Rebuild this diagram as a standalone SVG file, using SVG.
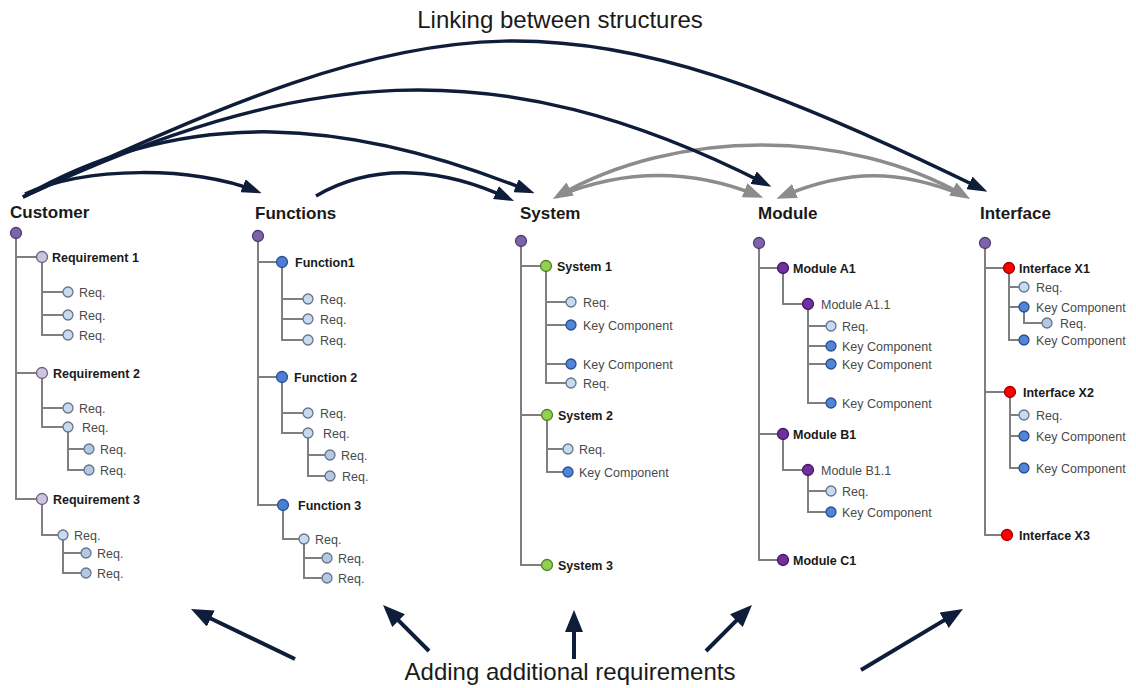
<svg xmlns="http://www.w3.org/2000/svg" width="1136" height="688" viewBox="0 0 1136 688">
<style>
text{font-family:"Liberation Sans",Arial,sans-serif}
.title{font-size:24px;fill:#1a1a1a}
.hdr{font-size:17px;font-weight:bold;fill:#1a1a1a}
.b{font-size:12.5px;font-weight:bold;fill:#1a1a1a}
.t{font-size:12.5px;fill:#4a4a4a}
.ln{fill:none;stroke:#7f7f7f;stroke-width:2}
circle{stroke-width:1.3}
.root{fill:#7f63a8;stroke:#4e3c72}
.rq1{fill:#cec4e0;stroke:#6a6580}
.req{fill:#c6daf2;stroke:#66758b}
.req2{fill:#b5c8e2;stroke:#66758b}
.fn{fill:#4b7fd1;stroke:#2d4f8f}
.sys{fill:#92d050;stroke:#4f7f2a}
.mod{fill:#7030a0;stroke:#42185f}
.itf{fill:#ff0000;stroke:#a00000}
.key{fill:#4f86d6;stroke:#2d4f8f}
.dark{fill:none;stroke:#0e1d3a;stroke-width:3.5}
.gray{fill:none;stroke:#8c8c8c;stroke-width:3.5}
.up{fill:none;stroke:#0e1d3a;stroke-width:4}
</style>
<defs>
<marker id="ahd" viewBox="0 0 20 14" refX="14" refY="7" markerWidth="20" markerHeight="14" markerUnits="userSpaceOnUse" orient="auto"><path d="M0,0 L20,7 L0,14 z" fill="#0e1d3a"/></marker>
<marker id="ahg" viewBox="0 0 20 15" refX="14" refY="7.5" markerWidth="20" markerHeight="15" markerUnits="userSpaceOnUse" orient="auto-start-reverse"><path d="M0,0 L20,7.5 L0,15 z" fill="#8c8c8c"/></marker>
<marker id="ahb" viewBox="0 0 22 18" refX="14" refY="9" markerWidth="22" markerHeight="18" markerUnits="userSpaceOnUse" orient="auto"><path d="M0,0 L22,9 L0,18 z" fill="#0e1d3a"/></marker>
</defs>
<rect width="1136" height="688" fill="#ffffff"/>

<text class="title" x="560" y="28" text-anchor="middle">Linking between structures</text>
<text class="title" x="570" y="680" text-anchor="middle">Adding additional requirements</text>

<g id="connectors">
<path class="gray" d="M558 196 C676 128 847 128 965 196" marker-start="url(#ahg)" marker-end="url(#ahg)"/>
<path class="gray" d="M558 196 C624 169 692 169 757.6 195.4" marker-end="url(#ahg)"/>
<path class="gray" d="M782 196.4 C848 169 899 169 965 196" marker-start="url(#ahg)"/>
<path class="dark" d="M25 194 C86 166 194 166 256 191" marker-end="url(#ahd)"/>
<path class="dark" d="M316 196 C376 161 445.6 168.9 508.6 198.5" marker-end="url(#ahd)"/>
<path class="dark" d="M23 197 C187 102.5 354 120 529 191" marker-end="url(#ahd)"/>
<path class="dark" d="M23 197 C299 68 494 46 766 184" marker-end="url(#ahd)"/>
<path class="dark" d="M23 197 C449 -2 560 -17 982 189" marker-end="url(#ahd)"/>
</g>

<g id="additions">
<path class="up" d="M295 659 L198.2 612.5" marker-end="url(#ahb)"/>
<path class="up" d="M429 651 L388.7 610.7" marker-end="url(#ahb)"/>
<path class="up" d="M574 659 L574 618" marker-end="url(#ahb)"/>
<path class="up" d="M706 651 L746.3 610.7" marker-end="url(#ahb)"/>
<path class="up" d="M861 670 L956.1 613.1" marker-end="url(#ahb)"/>
</g>

<g id="customer">
<text class="hdr" x="10" y="218">Customer</text>
<path class="ln" d="M16 233 V499 H42 M16 257 H42 M16 373 H42 M42 257 V335 H68 M42 292 H68 M42 315 H68 M42 373 V427 H68 M42 408 H68 M68 427 V470 H89 M68 449 H89 M42 499 V535 H63 M63 535 V573 H86 M63 553 H86"/>
<g id="cust-root"><circle class="root" cx="16" cy="233" r="5.5"/></g>
<g id="cust-r1"><circle class="rq1" cx="42" cy="257" r="5.5"/><text class="b" x="52" y="261.5">Requirement 1</text></g>
<g id="cust-r1-1"><circle class="req" cx="68" cy="292" r="5"/><text class="t" x="79" y="296.5">Req.</text></g>
<g id="cust-r1-2"><circle class="req" cx="68" cy="315" r="5"/><text class="t" x="79" y="319.5">Req.</text></g>
<g id="cust-r1-3"><circle class="req" cx="68" cy="335" r="5"/><text class="t" x="79" y="339.5">Req.</text></g>
<g id="cust-r2"><circle class="rq1" cx="42" cy="373" r="5.5"/><text class="b" x="53" y="377.5">Requirement 2</text></g>
<g id="cust-r2-1"><circle class="req" cx="68" cy="408" r="5"/><text class="t" x="79" y="412.5">Req.</text></g>
<g id="cust-r2-2"><circle class="req" cx="68" cy="427" r="5"/><text class="t" x="82" y="431.5">Req.</text></g>
<g id="cust-r2-2-1"><circle class="req2" cx="89" cy="449" r="5"/><text class="t" x="100" y="453.5">Req.</text></g>
<g id="cust-r2-2-2"><circle class="req2" cx="89" cy="470" r="5"/><text class="t" x="100" y="474.5">Req.</text></g>
<g id="cust-r3"><circle class="rq1" cx="42" cy="499" r="5.5"/><text class="b" x="53" y="503.5">Requirement 3</text></g>
<g id="cust-r3-1"><circle class="req" cx="63" cy="535" r="5"/><text class="t" x="74" y="539.5">Req.</text></g>
<g id="cust-r3-1-1"><circle class="req2" cx="86" cy="553" r="5"/><text class="t" x="97" y="557.5">Req.</text></g>
<g id="cust-r3-1-2"><circle class="req2" cx="86" cy="573" r="5"/><text class="t" x="97" y="577.5">Req.</text></g>
</g>

<g id="functions">
<text class="hdr" x="255" y="219">Functions</text>
<path class="ln" d="M258 236 V505 H283 M258 262 H282 M258 377 H282 M282 262 V340 H308 M282 299 H308 M282 319 H308 M282 377 V433 H308 M282 413 H308 M308 433 V476 H330 M308 455 H330 M283 505 V539 H304 M304 539 V578 H327 M304 558 H327"/>
<g id="fn-root"><circle class="root" cx="258" cy="236" r="5.5"/></g>
<g id="fn-1"><circle class="fn" cx="282" cy="262" r="5.5"/><text class="b" x="295" y="266.5">Function1</text></g>
<g id="fn-1-1"><circle class="req" cx="308" cy="299" r="5"/><text class="t" x="320" y="303.5">Req.</text></g>
<g id="fn-1-2"><circle class="req" cx="308" cy="319" r="5"/><text class="t" x="320" y="323.5">Req.</text></g>
<g id="fn-1-3"><circle class="req" cx="308" cy="340" r="5"/><text class="t" x="320" y="344.5">Req.</text></g>
<g id="fn-2"><circle class="fn" cx="282" cy="377" r="5.5"/><text class="b" x="294" y="381.5">Function 2</text></g>
<g id="fn-2-1"><circle class="req" cx="308" cy="413" r="5"/><text class="t" x="320" y="417.5">Req.</text></g>
<g id="fn-2-2"><circle class="req" cx="308" cy="433" r="5"/><text class="t" x="323" y="437.5">Req.</text></g>
<g id="fn-2-2-1"><circle class="req2" cx="330" cy="455" r="5"/><text class="t" x="341" y="459.5">Req.</text></g>
<g id="fn-2-2-2"><circle class="req2" cx="330" cy="476" r="5"/><text class="t" x="342" y="480.5">Req.</text></g>
<g id="fn-3"><circle class="fn" cx="283" cy="505" r="5.5"/><text class="b" x="298" y="509.5">Function 3</text></g>
<g id="fn-3-1"><circle class="req" cx="304" cy="539" r="5"/><text class="t" x="315" y="543.5">Req.</text></g>
<g id="fn-3-1-1"><circle class="req2" cx="327" cy="558" r="5"/><text class="t" x="338" y="562.5">Req.</text></g>
<g id="fn-3-1-2"><circle class="req2" cx="327" cy="578" r="5"/><text class="t" x="338" y="582.5">Req.</text></g>
</g>

<g id="system">
<text class="hdr" x="520" y="219">System</text>
<path class="ln" d="M521 241 V565 H547 M521 266 H546 M521 415 H547 M546 266 V383 H571 M546 302 H571 M546 325 H571 M546 364 H571 M547 415 V472 H568 M547 449 H568"/>
<g id="sys-root"><circle class="root" cx="521" cy="241" r="5.5"/></g>
<g id="sys-1"><circle class="sys" cx="546" cy="266" r="5.5"/><text class="b" x="557" y="270.5">System 1</text></g>
<g id="sys-1-1"><circle class="req" cx="571" cy="302" r="5"/><text class="t" x="583" y="306.5">Req.</text></g>
<g id="sys-1-2"><circle class="key" cx="571" cy="325" r="5"/><text class="t" x="583" y="329.5">Key Component</text></g>
<g id="sys-1-3"><circle class="key" cx="571" cy="364" r="5"/><text class="t" x="583" y="368.5">Key Component</text></g>
<g id="sys-1-4"><circle class="req" cx="571" cy="383" r="5"/><text class="t" x="583" y="387.5">Req.</text></g>
<g id="sys-2"><circle class="sys" cx="547" cy="415" r="5.5"/><text class="b" x="558" y="419.5">System 2</text></g>
<g id="sys-2-1"><circle class="req" cx="568" cy="449" r="5"/><text class="t" x="579" y="453.5">Req.</text></g>
<g id="sys-2-2"><circle class="key" cx="568" cy="472" r="5"/><text class="t" x="579" y="476.5">Key Component</text></g>
<g id="sys-3"><circle class="sys" cx="547" cy="565" r="5.5"/><text class="b" x="558" y="569.5">System 3</text></g>
</g>

<g id="module">
<text class="hdr" x="758" y="219">Module</text>
<path class="ln" d="M759 243 V560 H783 M759 268 H783 M759 434 H783 M783 268 V304 H808 M808 304 V403 H831 M808 326 H831 M808 346 H831 M808 364 H831 M783 434 V470 H808 M808 470 V512 H831 M808 491 H831"/>
<g id="mod-root"><circle class="root" cx="759" cy="243" r="5.5"/></g>
<g id="mod-a1"><circle class="mod" cx="783" cy="268" r="5.5"/><text class="b" x="793" y="272.5">Module A1</text></g>
<g id="mod-a11"><circle class="mod" cx="808" cy="304" r="5.5"/><text class="t" x="821" y="308.5">Module A1.1</text></g>
<g id="mod-a11-1"><circle class="req" cx="831" cy="326" r="5"/><text class="t" x="842" y="330.5">Req.</text></g>
<g id="mod-a11-2"><circle class="key" cx="831" cy="346" r="5"/><text class="t" x="842" y="350.5">Key Component</text></g>
<g id="mod-a11-3"><circle class="key" cx="831" cy="364" r="5"/><text class="t" x="842" y="368.5">Key Component</text></g>
<g id="mod-a11-4"><circle class="key" cx="831" cy="403" r="5"/><text class="t" x="842" y="407.5">Key Component</text></g>
<g id="mod-b1"><circle class="mod" cx="783" cy="434" r="5.5"/><text class="b" x="793" y="438.5">Module B1</text></g>
<g id="mod-b11"><circle class="mod" cx="808" cy="470" r="5.5"/><text class="t" x="821" y="474.5">Module B1.1</text></g>
<g id="mod-b11-1"><circle class="req" cx="831" cy="491" r="5"/><text class="t" x="842" y="495.5">Req.</text></g>
<g id="mod-b11-2"><circle class="key" cx="831" cy="512" r="5"/><text class="t" x="842" y="516.5">Key Component</text></g>
<g id="mod-c1"><circle class="mod" cx="783" cy="560" r="5.5"/><text class="b" x="793" y="564.5">Module C1</text></g>
</g>

<g id="interface">
<text class="hdr" x="980" y="219">Interface</text>
<path class="ln" d="M985 243 V535 H1007 M985 268 H1009 M985 392 H1010 M1009 268 V340 H1024 M1009 287 H1024 M1009 307 H1024 M1024 307 V323 H1047 M1010 392 V468 H1024 M1010 415 H1024 M1010 436 H1024"/>
<g id="itf-root"><circle class="root" cx="985" cy="243" r="5.5"/></g>
<g id="itf-x1"><circle class="itf" cx="1009" cy="268" r="5.5"/><text class="b" x="1019" y="272.5">Interface X1</text></g>
<g id="itf-x1-1"><circle class="req" cx="1024" cy="287" r="5"/><text class="t" x="1036" y="291.5">Req.</text></g>
<g id="itf-x1-2"><circle class="key" cx="1024" cy="307" r="5"/><text class="t" x="1036" y="311.5">Key Component</text></g>
<g id="itf-x1-2-1"><circle class="req2" cx="1047" cy="323" r="5"/><text class="t" x="1060" y="327.5">Req.</text></g>
<g id="itf-x1-3"><circle class="key" cx="1024" cy="340" r="5"/><text class="t" x="1036" y="344.5">Key Component</text></g>
<g id="itf-x2"><circle class="itf" cx="1010" cy="392" r="5.5"/><text class="b" x="1023" y="396.5">Interface X2</text></g>
<g id="itf-x2-1"><circle class="req" cx="1024" cy="415" r="5"/><text class="t" x="1036" y="419.5">Req.</text></g>
<g id="itf-x2-2"><circle class="key" cx="1024" cy="436" r="5"/><text class="t" x="1036" y="440.5">Key Component</text></g>
<g id="itf-x2-3"><circle class="key" cx="1024" cy="468" r="5"/><text class="t" x="1036" y="472.5">Key Component</text></g>
<g id="itf-x3"><circle class="itf" cx="1007" cy="535" r="5.5"/><text class="b" x="1019" y="539.5">Interface X3</text></g>
</g>
</svg>
